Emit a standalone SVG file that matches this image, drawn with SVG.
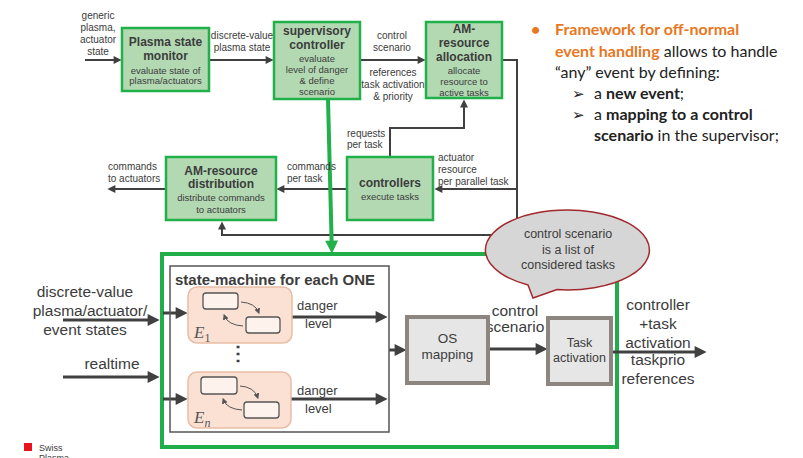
<svg xmlns="http://www.w3.org/2000/svg" width="803" height="458" viewBox="0 0 803 458">
<defs>
<style>
text{font-family:"Liberation Sans",Arial,sans-serif;fill:#3c3c3c}
.gbox{fill:#b3d9b3;stroke:#22b04b;stroke-width:2.5}
.t12{font-size:12px;font-weight:bold;text-anchor:middle}
.s9{font-size:9.5px;text-anchor:middle}
.l10{font-size:10px}
.c10{font-size:10px;text-anchor:middle}
.ln{fill:none;stroke:#404040;stroke-width:2}
.lb{fill:none;stroke:#404040;stroke-width:3}
.big{font-size:15.5px}
.ebox{fill:#fbe1d4;stroke:#e9bda5;stroke-width:1.5}
.ir{fill:#fdf2ec;stroke:#555;stroke-width:1.3}
.cv{fill:none;stroke:#555;stroke-width:1}
.gray{fill:#e6e6e6;stroke:#8c8580;stroke-width:4}
.rt{font-family:Lato,"Open Sans",sans-serif;font-size:16px;fill:#222}
.or{fill:#e8771e;font-weight:bold}
.arr{font-family:"DejaVu Sans",sans-serif;font-size:15px;fill:#222}
.el{font-family:"Liberation Serif","Times New Roman",serif;font-style:italic;font-size:17px;fill:#555}
.sub{font-size:12px}
</style>
<marker id="as" viewBox="0 0 10 10" refX="6" refY="5" markerWidth="9" markerHeight="8" markerUnits="userSpaceOnUse" orient="auto"><path d="M0,0 L10,5 L0,10 z" fill="#404040"/></marker>
<marker id="ab" viewBox="0 0 10 10" refX="6" refY="5" markerWidth="13" markerHeight="12" markerUnits="userSpaceOnUse" orient="auto"><path d="M0,0 L10,5 L0,10 z" fill="#404040"/></marker>
<marker id="ag" viewBox="0 0 10 10" refX="6" refY="5" markerWidth="14" markerHeight="13" markerUnits="userSpaceOnUse" orient="auto"><path d="M0,0 L10,5 L0,10 z" fill="#22b04b"/></marker>
<marker id="at" viewBox="0 0 10 10" refX="6" refY="5" markerWidth="6" markerHeight="6" markerUnits="userSpaceOnUse" orient="auto"><path d="M0,0 L10,5 L0,10 z" fill="#555"/></marker>
</defs>
<rect width="803" height="458" fill="#fff"/>

<g id="framework">
<rect x="162" y="254" width="455" height="193" fill="none" stroke="#1fae4a" stroke-width="4"/>
</g>

<g id="connectors">
<path class="ln" d="M85,60 H118.4" marker-end="url(#as)"/>
<path class="ln" d="M209,60 H270.4" marker-end="url(#as)"/>
<path class="ln" d="M360,60 H422.4" marker-end="url(#as)"/>
<path class="ln" d="M390,157 V128 H464 V102.6" marker-end="url(#as)"/>
<path class="ln" d="M502,60 H517 V235 H222 V224.6" marker-end="url(#as)"/>
<path class="ln" d="M517,189 H437.6" marker-end="url(#as)"/>
<path class="ln" d="M347,189 H279.6" marker-end="url(#as)"/>
<path class="ln" d="M166,189 H110.6" marker-end="url(#as)"/>
<path d="M328,99 L331.8,248.4" fill="none" stroke="#22b04b" stroke-width="4" marker-end="url(#ag)"/>
<path class="lb" d="M63,320 H154.8" marker-end="url(#ab)"/>
<path class="lb" d="M63,377 H154.8" marker-end="url(#ab)"/>
<path class="lb" d="M163,313 H182.8" marker-end="url(#ab)"/>
<path class="lb" d="M163,399 H182.8" marker-end="url(#ab)"/>
<path class="lb" d="M292,317 H382.8" marker-end="url(#ab)"/>
<path class="lb" d="M291,399 H382.8" marker-end="url(#ab)"/>
<path class="lb" d="M389,350 H401.8" marker-end="url(#ab)"/>
<path class="lb" d="M488,349 H542.8" marker-end="url(#ab)"/>
<path class="lb" d="M611,352 H701.8" marker-end="url(#ab)"/>
</g>

<g id="edge-labels">
<text class="c10" x="98" y="18.5">generic</text>
<text class="c10" x="98" y="30.5">plasma,</text>
<text class="c10" x="98" y="42.5">actuator</text>
<text class="c10" x="98" y="54.5">state</text>
<text class="c10" x="242" y="38.5">discrete-value</text>
<text class="c10" x="242" y="51">plasma state</text>
<text class="c10" x="392" y="38.5">control</text>
<text class="c10" x="392" y="51">scenario</text>
<text class="c10" x="393" y="75.5">references</text>
<text class="c10" x="393" y="87.5">task activation</text>
<text class="c10" x="393" y="100">&amp; priority</text>
<text class="l10" x="347" y="136.5">requests</text>
<text class="l10" x="347" y="148">per task</text>
<text class="l10" x="438" y="160.5">actuator</text>
<text class="l10" x="438" y="172.5">resource</text>
<text class="l10" x="438" y="184.5">per parallel task</text>
<text class="l10" x="287" y="169.5">commands</text>
<text class="l10" x="287" y="181.5">per task</text>
<text class="l10" x="108" y="169.5">commands</text>
<text class="l10" x="108" y="181.5">to actuators</text>
<text class="big" x="85" y="297" text-anchor="middle">discrete-value</text>
<text class="big" x="90" y="316" text-anchor="middle">plasma/actuator/</text>
<text class="big" x="85" y="334.5" text-anchor="middle">event states</text>
<text class="big" x="112" y="368.5" text-anchor="middle">realtime</text>
<text x="297" y="310" font-size="13px">danger</text>
<text x="305" y="328" font-size="13px">level</text>
<text x="297" y="395" font-size="13px">danger</text>
<text x="305" y="412.5" font-size="13px">level</text>
<text class="big" x="515" y="315.5" text-anchor="middle">control</text>
<text class="big" x="515" y="332" text-anchor="middle">scenario</text>
<text class="big" x="658" y="309.5" text-anchor="middle">controller</text>
<text class="big" x="658" y="328.5" text-anchor="middle">+task</text>
<text class="big" x="658" y="347.5" text-anchor="middle">activation</text>
<text class="big" x="658" y="364.5" text-anchor="middle">taskprio</text>
<text class="big" x="658" y="383.5" text-anchor="middle">references</text>
</g>

<g id="plasma-state-monitor">
<rect class="gbox" x="122" y="28" width="87" height="63"/>
<text class="t12" x="165.5" y="46">Plasma state</text>
<text class="t12" x="165.5" y="60">monitor</text>
<text class="s9" x="165.5" y="73.5">evaluate state of</text>
<text class="s9" x="165.5" y="84">plasma/actuators</text>
</g>

<g id="supervisory-controller">
<rect class="gbox" x="274" y="22" width="86" height="77"/>
<text class="t12" x="317" y="35">supervisory</text>
<text class="t12" x="317" y="49">controller</text>
<text class="s9" x="317" y="61.5">evaluate</text>
<text class="s9" x="317" y="73">level of danger</text>
<text class="s9" x="317" y="83.5">&amp; define</text>
<text class="s9" x="317" y="94.5">scenario</text>
</g>

<g id="am-resource-allocation">
<rect class="gbox" x="426" y="22" width="76" height="76"/>
<text class="t12" x="464" y="33">AM-</text>
<text class="t12" x="464" y="46.5">resource</text>
<text class="t12" x="464" y="61">allocation</text>
<text class="s9" x="464" y="73.5">allocate</text>
<text class="s9" x="464" y="85">resource to</text>
<text class="s9" x="464" y="95.5">active tasks</text>
</g>

<g id="controllers">
<rect class="gbox" x="347" y="157" width="86" height="63"/>
<text class="t12" x="390" y="187">controllers</text>
<text class="s9" x="390" y="199.5">execute tasks</text>
</g>

<g id="am-resource-distribution">
<rect class="gbox" x="166" y="157" width="110" height="63"/>
<text class="t12" x="221" y="175">AM-resource</text>
<text class="t12" x="221" y="188">distribution</text>
<text class="s9" x="221" y="201">distribute commands</text>
<text class="s9" x="221" y="212.5">to actuators</text>
</g>

<g id="state-machine">
<rect x="170" y="266" width="219" height="166" fill="none" stroke="#555" stroke-width="1.5"/>
<text x="175" y="284.5" font-size="15px" font-weight="bold">state-machine  for each ONE</text>
<text x="238" y="360" font-size="20px" font-weight="bold" text-anchor="middle">⋮</text>
</g>

<g id="E1">
<rect class="ebox" x="188" y="287" width="104" height="56" rx="9"/>
<rect class="ir" x="203" y="293" width="35" height="16" rx="3"/>
<rect class="ir" x="246" y="317" width="34" height="16" rx="3"/>
<path class="cv" d="M241,302 Q255,303 258.5,312" marker-end="url(#at)"/>
<path class="cv" d="M243,326 Q228,325 224.5,316" marker-end="url(#at)"/>
<text class="el" x="194" y="338">E<tspan class="sub" font-style="normal" dy="4">1</tspan></text>
</g>

<g id="En">
<rect class="ebox" x="188" y="372" width="103" height="56" rx="9"/>
<rect class="ir" x="201" y="377" width="36" height="17" rx="3"/>
<rect class="ir" x="244" y="402" width="35" height="16" rx="3"/>
<path class="cv" d="M240,386 Q254,387 257.5,397" marker-end="url(#at)"/>
<path class="cv" d="M242,410 Q227,409 223.5,400" marker-end="url(#at)"/>
<text class="el" x="194" y="423">E<tspan class="sub" dy="4">n</tspan></text>
</g>

<g id="os-mapping">
<rect class="gray" x="407" y="317" width="81" height="66"/>
<text x="447.5" y="343" font-size="13.5px" text-anchor="middle">OS</text>
<text x="447.5" y="359" font-size="13.5px" text-anchor="middle">mapping</text>
</g>

<g id="task-activation">
<rect class="gray" x="548" y="318" width="63" height="66"/>
<text x="579.5" y="346.5" font-size="12.5px" text-anchor="middle">Task</text>
<text x="579.5" y="361.5" font-size="12.5px" text-anchor="middle">activation</text>
</g>

<g id="callout">
<path d="M528,285 L533,298 L557,289.6 A82,40 0 1,0 528,285 Z" fill="#d6d6d6" stroke="#a3282c" stroke-width="1.5"/>
<text x="568" y="238" font-size="12.5px" text-anchor="middle">control scenario</text>
<text x="568" y="253.5" font-size="12.5px" text-anchor="middle">is a list of</text>
<text x="568" y="268.5" font-size="12.5px" text-anchor="middle">considered tasks</text>
</g>

<g id="bullets">
<text class="rt or" x="531" y="35">•</text>
<text class="rt or" x="555" y="35">Framework for off-normal</text>
<text class="rt" x="555" y="56.5"><tspan class="or">event handling</tspan> allows to handle</text>
<text class="rt" x="555" y="78">“any” event by defining:</text>
<text class="arr" x="572" y="99">➢</text>
<text class="rt" x="594" y="99">a <tspan font-weight="bold">new event</tspan>;</text>
<text class="arr" x="572" y="119.5">➢</text>
<text class="rt" x="594" y="119.5">a <tspan font-weight="bold">mapping to a control</tspan></text>
<text class="rt" x="594" y="140.5"><tspan font-weight="bold">scenario</tspan> in the supervisor;</text>
</g>

<g id="logo">
<rect x="24" y="443" width="8" height="8" fill="#e8141b"/>
<text x="39" y="451" font-size="9px">Swiss</text>
<text x="39" y="461" font-size="9px">Plasma</text>
</g>
</svg>
